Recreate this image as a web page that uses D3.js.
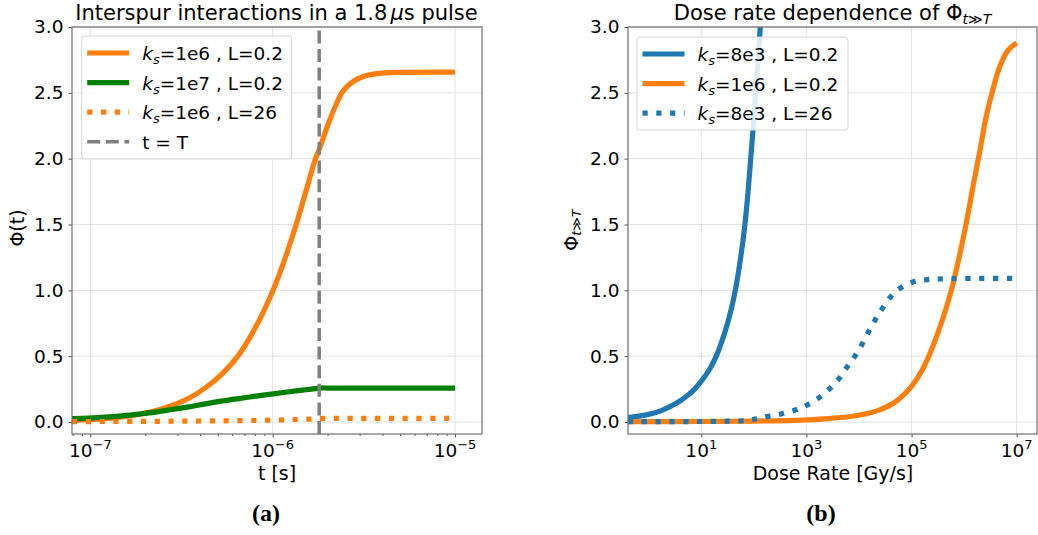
<!DOCTYPE html>
<html>
<head>
<meta charset="utf-8">
<script src="https://cdn.jsdelivr.net/npm/d3@7"></script>
<style>
body { margin: 0; background: #fff; }
svg { display: block; }
text { font-family: "DejaVu Sans", sans-serif; fill: #000; }
</style>
</head>
<body>
<svg id="fig" width="1038" height="535"></svg>
<script>
// ---- panel (a): Phi(t) vs time ----
const tA = [7.94e-8, 9.8e-8, 1.21e-7, 1.49e-7, 1.84e-7, 2.27e-7, 2.81e-7, 3.47e-7, 4.28e-7, 5.32e-7,
            6.52e-7, 8.28e-7, 1.005e-6, 1.175e-6, 1.345e-6, 1.52e-6, 1.718e-6, 1.8e-6, 2.0e-6, 2.21e-6,
            2.45e-6, 2.79e-6, 3.23e-6, 3.98e-6, 5.36e-6, 1e-5];
const phiK1e6 = [0.012, 0.018, 0.025, 0.038, 0.058, 0.085, 0.125, 0.18, 0.26, 0.37,
                 0.51, 0.75, 1.0, 1.25, 1.5, 1.75, 2.0, 2.07, 2.25, 2.40,
                 2.52, 2.59, 2.63, 2.65, 2.656, 2.657];
const phiK1e7 = [0.025, 0.03, 0.037, 0.047, 0.06, 0.075, 0.095, 0.115, 0.138, 0.16,
                 0.178, 0.198, 0.214, 0.226, 0.236, 0.245, 0.254, 0.258, 0.258, 0.258,
                 0.258, 0.258, 0.258, 0.258, 0.258, 0.258];
const phiK1e6L26 = [0.003, 0.003, 0.004, 0.004, 0.005, 0.005, 0.006, 0.007, 0.008, 0.009,
                    0.010, 0.012, 0.014, 0.017, 0.019, 0.021, 0.024, 0.026, 0.027, 0.027,
                    0.027, 0.027, 0.027, 0.027, 0.027, 0.027];
const pulseT = 1.8e-6;

// ---- panel (b): Phi_{t>>T} vs dose rate ----
const doseK8e3 = [0.404, 1, 1.74, 3.6, 5.62, 7.46, 10, 14.1, 19.3, 24.5, 31.6, 37.8,
                  44.4, 56.2, 67.6, 77.6, 87.1, 97.7, 108.4, 120.2, 132.4, 139.6];
const phiK8e3 = [0.033, 0.058, 0.087, 0.15, 0.205, 0.25, 0.31, 0.395, 0.50, 0.61, 0.75, 0.87,
                 1.0, 1.25, 1.5, 1.75, 2.0, 2.25, 2.5, 2.75, 3.0, 3.15];
const doseK1e6 = [0.404, 10, 100, 597, 1000, 2570, 6310, 10960, 15850, 23990, 39810, 58080, 1e5,
                  1.622e5, 2.512e5, 3.89e5, 5.623e5, 8.128e5, 1.096e6, 1.479e6, 1.95e6,
                  2.63e6, 3.548e6, 4.677e6, 6.761e6, 1e7];
const phiBK1e6 = [0.003, 0.004, 0.007, 0.012, 0.016, 0.026, 0.040, 0.055, 0.068, 0.09, 0.13, 0.175, 0.27,
                  0.40, 0.57, 0.78, 0.99, 1.26, 1.51, 1.79, 2.04,
                  2.32, 2.53, 2.69, 2.82, 2.88];
const doseK8e3L26 = [0.404, 10, 31.6, 79.4, 138, 289, 597, 925, 1540, 2570, 3980, 5750, 8040,
                     11070, 14450, 19950, 27540, 39810, 57540, 1e5, 1.86e5, 3.39e5, 1e6, 1e7];
const phiK8e3L26 = [0.003, 0.004, 0.006, 0.013, 0.033, 0.056, 0.089, 0.12, 0.17, 0.24, 0.32, 0.41,
                    0.49, 0.58, 0.67, 0.77, 0.86, 0.95, 1.01, 1.06, 1.08, 1.086, 1.09, 1.09];

// ---- ticks ----
const yTicks = [0, 0.5, 1.0, 1.5, 2.0, 2.5, 3.0];
const xTicksA = [1e-7, 1e-6, 1e-5];
const xTickExpA = ["\u22127", "\u22126", "\u22125"];
const xMinorA = [8e-8, 9e-8, 2e-7, 3e-7, 4e-7, 5e-7, 6e-7, 7e-7, 8e-7, 9e-7,
                 2e-6, 3e-6, 4e-6, 5e-6, 6e-6, 7e-6, 8e-6, 9e-6];
const xTicksB = [1e1, 1e3, 1e5, 1e7];
const xTickExpB = ["1", "3", "5", "7"];

const C_ORANGE = "#ff7f0e", C_GREEN = "#008000", C_BLUE = "#1f77b4", C_GRAY = "#808080";
const LW = 5.2;
const DOTS = `${LW},${LW * 1.65}`;
const FS = 18.5;

const svg = d3.select("#fig");

function makePanel(cfg) {
    const g = svg.append("g");
    const xs = d3.scaleLog().domain(cfg.xDomain).range([cfg.x0, cfg.x1]);
    const ys = d3.scaleLinear().domain([-0.0911, 3.0]).range([cfg.y1, cfg.y0]);

    // grid
    g.append("g").selectAll("line").data(cfg.xTicks).join("line")
        .attr("x1", d => xs(d)).attr("x2", d => xs(d))
        .attr("y1", cfg.y0).attr("y2", cfg.y1)
        .attr("stroke", "#e3e3e3").attr("stroke-width", 1);
    g.append("g").selectAll("line").data(yTicks).join("line")
        .attr("x1", cfg.x0).attr("x2", cfg.x1)
        .attr("y1", d => ys(d)).attr("y2", d => ys(d))
        .attr("stroke", "#e3e3e3").attr("stroke-width", 1);

    const clipId = "clip" + cfg.id;
    svg.append("clipPath").attr("id", clipId).append("rect")
        .attr("x", cfg.x0).attr("y", cfg.y0)
        .attr("width", cfg.x1 - cfg.x0).attr("height", cfg.y1 - cfg.y0);
    const plot = g.append("g").attr("clip-path", `url(#${clipId})`);

    const line = d3.line()
        .x(d => xs(d[0])).y(d => ys(d[1]))
        .curve(d3.curveCatmullRom.alpha(0.5));

    cfg.series.forEach(s => {
        if (s.vline) {
            plot.append("line")
                .attr("x1", xs(s.vline)).attr("x2", xs(s.vline))
                .attr("y1", cfg.y1).attr("y2", cfg.y0)
                .attr("stroke", s.color).attr("stroke-width", 3.5)
                .attr("stroke-dasharray", "13,5.6");
            return;
        }
        plot.append("path")
            .attr("d", line(d3.zip(s.x, s.y)))
            .attr("fill", "none")
            .attr("stroke", s.color)
            .attr("stroke-width", LW)
            .attr("stroke-dasharray", s.dash || null);
    });

    // axes
    const xaxis = d3.axisBottom(xs).tickValues(cfg.xTicks).tickSize(3.5).tickFormat("");
    const xg = g.append("g").attr("transform", `translate(0,${cfg.y1})`).call(xaxis);
    if (cfg.xMinor) {
        g.append("g").attr("transform", `translate(0,${cfg.y1})`)
            .call(d3.axisBottom(xs).tickValues(cfg.xMinor).tickSize(2).tickFormat(""));
    }
    xg.selectAll(".tick text").remove();
    const xl = g.append("g").selectAll("text").data(cfg.xTicks).join("text")
        .attr("x", d => xs(d)).attr("y", cfg.y1 + 23)
        .attr("text-anchor", "middle").attr("font-size", FS);
    xl.append("tspan").text("10");
    xl.append("tspan").attr("font-size", 13).attr("dy", -8).text((d, i) => cfg.xExp[i]);

    const yaxis = d3.axisLeft(ys).tickValues(yTicks).tickSize(3.5).tickPadding(5).tickFormat(d3.format(".1f"));
    g.append("g").attr("transform", `translate(${cfg.x0},0)`).call(yaxis)
        .selectAll("text").attr("font-size", FS).attr("fill", "#000");

    g.selectAll(".domain").remove();
    g.selectAll(".tick line").attr("stroke", "#555");

    g.append("rect")
        .attr("x", cfg.x0).attr("y", cfg.y0)
        .attr("width", cfg.x1 - cfg.x0).attr("height", cfg.y1 - cfg.y0)
        .attr("fill", "none").attr("stroke", "#6e6e6e").attr("stroke-width", 1.2);

    // legend
    const lg = g.append("g");
    lg.append("rect")
        .attr("x", cfg.legend.x).attr("y", cfg.legend.y)
        .attr("width", cfg.legend.w).attr("height", cfg.legend.h)
        .attr("rx", 3).attr("fill", "#fff").attr("fill-opacity", 0.85)
        .attr("stroke", "#d6d6d6").attr("stroke-width", 1);
    cfg.series.forEach((s, i) => {
        const yy = cfg.legend.y + 17 + i * 29.6;
        const lx = cfg.legend.x + 5.5;
        lg.append("line")
            .attr("x1", lx).attr("x2", lx + 42)
            .attr("y1", yy).attr("y2", yy)
            .attr("stroke", s.color)
            .attr("stroke-width", s.vline ? 3.5 : LW)
            .attr("stroke-dasharray", s.vline ? "13,5.6" : (s.dash || null));
        const t = lg.append("text")
            .attr("x", lx + 55).attr("y", yy + 7).attr("font-size", FS);
        if (s.k) {
            t.append("tspan").attr("font-style", "italic").text("k");
            t.append("tspan").attr("font-style", "italic").attr("font-size", 13).attr("dy", 4).text("s");
            t.append("tspan").attr("dy", -4).text(`=${s.k} , L=${s.L}`);
        } else {
            t.text(s.label);
        }
    });

    return { xs, ys };
}

makePanel({
    id: "a",
    x0: 72, x1: 482, y0: 27, y1: 434,
    xDomain: [Math.pow(10, -7.1004), Math.pow(10, -4.852)],
    xTicks: xTicksA, xExp: xTickExpA, xMinor: xMinorA,
    legend: { x: 81.7, y: 36, w: 210, h: 123 },
    series: [
        { x: tA, y: phiK1e6, color: C_ORANGE, k: "1e6", L: "0.2" },
        { x: tA, y: phiK1e7, color: C_GREEN, k: "1e7", L: "0.2" },
        { x: tA, y: phiK1e6L26, color: C_ORANGE, dash: DOTS, k: "1e6", L: "26" },
        { vline: pulseT, color: C_GRAY, label: "t = T" }
    ]
});

makePanel({
    id: "b",
    x0: 628, x1: 1037, y0: 27, y1: 434,
    xDomain: [Math.pow(10, -0.394), Math.pow(10, 7.386)],
    xTicks: xTicksB, xExp: xTickExpB,
    legend: { x: 637, y: 37, w: 211, h: 93 },
    series: [
        { x: doseK8e3, y: phiK8e3, color: C_BLUE, k: "8e3", L: "0.2" },
        { x: doseK1e6, y: phiBK1e6, color: C_ORANGE, k: "1e6", L: "0.2" },
        { x: doseK8e3L26, y: phiK8e3L26, color: C_BLUE, dash: DOTS, k: "8e3", L: "26" }
    ]
});

// titles
const ta = svg.append("text").attr("x", 276.5).attr("y", 20)
    .attr("text-anchor", "middle").attr("font-size", 21);
ta.append("tspan").text("Interspur interactions in a 1.8");
ta.append("tspan").attr("dx", 3).attr("font-style", "italic").text("\u03bc");
ta.append("tspan").text("s pulse");

const tb = svg.append("text").attr("x", 832.5).attr("y", 20)
    .attr("text-anchor", "middle").attr("font-size", 21);
tb.append("tspan").text("Dose rate dependence of \u03a6");
tb.append("tspan").attr("font-size", 14).attr("dy", 4).attr("font-style", "italic").text("t");
tb.append("tspan").attr("font-size", 14).text("\u226b");
tb.append("tspan").attr("font-size", 14).attr("font-style", "italic").text("T");

// axis labels
svg.append("text").attr("x", 277).attr("y", 480).attr("text-anchor", "middle")
    .attr("font-size", 19).text("t [s]");
svg.append("text").attr("x", 833).attr("y", 480).attr("text-anchor", "middle")
    .attr("font-size", 19).text("Dose Rate [Gy/s]");

svg.append("text").attr("transform", "translate(24,228) rotate(-90)")
    .attr("text-anchor", "middle").attr("font-size", 19).text("\u03a6(t)");
const yb = svg.append("text").attr("transform", "translate(578,230) rotate(-90)")
    .attr("text-anchor", "middle").attr("font-size", 19);
yb.append("tspan").text("\u03a6");
yb.append("tspan").attr("font-size", 13).attr("dy", 3).attr("font-style", "italic").text("t");
yb.append("tspan").attr("font-size", 13).text("\u226b");
yb.append("tspan").attr("font-size", 13).attr("font-style", "italic").text("T");

// panel captions
svg.append("text").attr("x", 266).attr("y", 521).attr("text-anchor", "middle")
    .style("font-family", "'Liberation Serif', serif").attr("font-weight", "bold").attr("font-size", 24)
    .text("(a)");
svg.append("text").attr("x", 821).attr("y", 521).attr("text-anchor", "middle")
    .style("font-family", "'Liberation Serif', serif").attr("font-weight", "bold").attr("font-size", 24)
    .text("(b)");
</script>
</body>
</html>
